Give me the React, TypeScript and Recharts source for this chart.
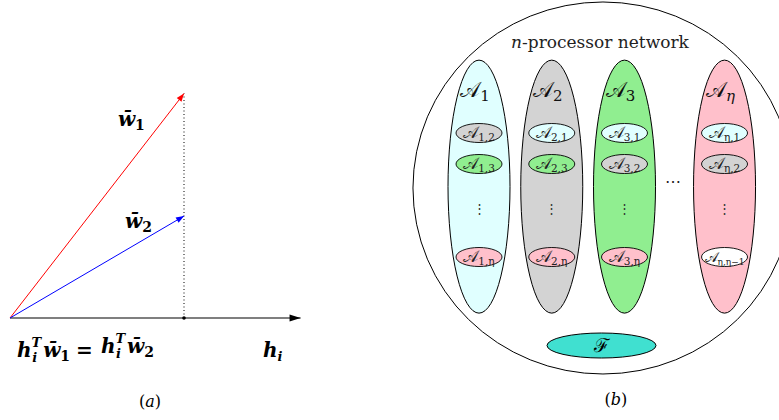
import React from "react";
import { ComposedChart, Line, Scatter, XAxis, YAxis, ReferenceDot } from "recharts";

const SERIF = "DejaVu Serif";

// ---- (a) two weight vectors with the same projection on h_i ----
const w1Vector = [{ x: 0, y: 0 }, { x: 1, y: 1.29 }];
const w2Vector = [{ x: 0, y: 0 }, { x: 1, y: 0.586 }];
const hAxis = [{ x: 0, y: 0 }, { x: 1.67, y: 0 }];
const projection = [{ x: 1, y: 0 }, { x: 1, y: 1.29 }];
const labelsA = [
  { id: "w1", x: 0.62, y: 1.103 },
  { id: "w2", x: 0.661, y: 0.517 },
  { id: "eq", x: 0.04, y: -0.224 },
  { id: "h", x: 1.454, y: -0.224 },
  { id: "cap", x: 0.805, y: -0.511 },
];

// ---- (b) n-processor network, x in group slots, y in cell rows ----
const groups = ["1", "2", "3", "η"];
const groupX = [1, 2, 3, 4.375];
const groupMidY = 2.73;
const groupLabelY = -0.16;
const cellRows = [1, 2, 5];
const cellSubs = [
  ["1,2", "1,3", "1,η"],
  ["2,1", "2,3", "2,η"],
  ["3,1", "3,2", "3,η"],
  ["η,1", "η,2", "η,η−1"],
];
// which group each cell copies (-1: the η−1 group, not drawn)
const cellRef = [
  [1, 2, 3],
  [0, 2, 3],
  [0, 1, 3],
  [0, 1, -1],
];
const vdotsY = 3.42;
const gap = { x: 3.667, y: 2.61 };
const fusion = { x: 2.684, y: 7.855 };
const network = { x: 2.704, y: 2.774 };
const titleB = { x: 2.663, y: -1.74 };
const captionB = { x: 2.883, y: 9.77 };

const groupColors = ["#e0ffff", "#d3d3d3", "#90ee90", "#ffc0cb"];

const groupData = groups.map((g, i) => ({ x: groupX[i], y: groupMidY, i }));
const groupLabelData = groups.map((g, i) => ({ x: groupX[i], y: groupLabelY, g }));
const cellData = groups.flatMap((g, i) =>
  cellRows.map((r, j) => ({ x: groupX[i], y: r, sub: cellSubs[i][j], ref: cellRef[i][j] }))
);
const vdotsData = groups.map((g, i) => ({ x: groupX[i], y: vdotsY }));

const PX_A = 174;
const PX_BX = 72.75;
const PX_BY = 31;

const serif = (size: number, extra: React.CSSProperties = {}): React.CSSProperties => ({
  fontFamily: SERIF,
  fontSize: size,
  ...extra,
});

function arrowHead(data: { x: number; y: number }[], color: string, len: number, half: number) {
  return (props: any) => {
    const { cx, cy, index } = props;
    if (index !== data.length - 1) return <g key={`n${index}`} />;
    const a = data[data.length - 2];
    const b = data[data.length - 1];
    const ang = Math.atan2(-(b.y - a.y), b.x - a.x);
    const ux = Math.cos(ang);
    const uy = Math.sin(ang);
    const bx = cx - ux * len;
    const by = cy - uy * len;
    const pts = `${cx},${cy} ${bx - uy * half},${by + ux * half} ${bx + uy * half},${by - ux * half}`;
    return <polygon key={`a${index}`} points={pts} fill={color} />;
  };
}

const bi = { fontWeight: "bold" as const, fontStyle: "italic" as const };

const renderLabelA = (p: any) => {
  const { cx, cy, payload } = p;
  if (payload.id === "w1" || payload.id === "w2") {
    return (
      <text x={cx} y={cy} fill="#000" style={serif(20, bi)}>
        {"w\u0304"}
        <tspan style={{ fontStyle: "normal", fontSize: 14 }} dy={4}>{payload.id === "w1" ? "1" : "2"}</tspan>
      </text>
    );
  }
  if (payload.id === "eq") {
    const part = (n: string, first: boolean) => [
      <tspan key={`h${n}`} dx={first ? 0 : 8} dy={first ? 0 : -4}>h</tspan>,
      <tspan key={`T${n}`} style={{ fontSize: 13 }} dy={-10}>T</tspan>,
      <tspan key={`i${n}`} style={{ fontSize: 13 }} dx={-9} dy={15}>i</tspan>,
      <tspan key={`w${n}`} dx={6} dy={-5}>{"w\u0304"}</tspan>,
      <tspan key={`n${n}`} style={{ fontStyle: "normal", fontSize: 14 }} dy={4}>{n}</tspan>,
    ];
    return (
      <text x={cx} y={cy} fill="#000" style={serif(20, bi)}>
        {part("1", true)}
        <tspan style={{ fontStyle: "normal" }} dx={6} dy={-4}>=</tspan>
        {part("2", false)}
      </text>
    );
  }
  if (payload.id === "h") {
    return (
      <text x={cx} y={cy} fill="#000" style={serif(20, bi)}>
        h<tspan style={{ fontSize: 13 }} dy={4}>i</tspan>
      </text>
    );
  }
  return (
    <text x={cx} y={cy} fill="#000" textAnchor="middle" style={serif(16)}>
      (<tspan style={{ fontStyle: "italic" }}>a</tspan>)
    </text>
  );
};

const renderNetwork = (p: any) => (
  <ellipse cx={p.cx} cy={p.cy} rx={190} ry={186} fill="#fff" stroke="#000" strokeWidth={1} />
);

const renderGroup = (p: any) => (
  <ellipse cx={p.cx} cy={p.cy} rx={31} ry={126.5} fill={groupColors[p.payload.i]} stroke="#000" strokeWidth={1} />
);

const renderGroupLabel = (p: any) => (
  <text x={p.cx - 4} y={p.cy} textAnchor="middle" fill="#111" style={serif(21)}>
    {"𝒜"}
    <tspan style={{ fontSize: 15, fontStyle: p.payload.g === "η" ? "italic" : "normal" }} dy={4}>{p.payload.g}</tspan>
  </text>
);

const renderCell = (p: any) => {
  const { cx, cy, payload } = p;
  const fill = payload.ref >= 0 ? groupColors[payload.ref] : "#fff";
  const long = payload.sub.length > 3;
  return (
    <g>
      <ellipse cx={cx} cy={cy} rx={23} ry={9.5} fill={fill} stroke="#000" strokeWidth={0.9} />
      <text x={cx} y={cy + 5} textAnchor="middle" fill="#222" style={serif(long ? 14 : 16)}>
        {"𝒜"}
        <tspan style={{ fontSize: long ? 9 : 10.5 }} dy={3}>{payload.sub}</tspan>
      </text>
    </g>
  );
};

const renderVdots = (p: any) => (
  <text x={p.cx} y={p.cy + 5} textAnchor="middle" fill="#333" style={serif(13)}>
    ⋮
  </text>
);

const renderGap = (p: any) => (
  <text x={p.cx} y={p.cy + 4} textAnchor="middle" fill="#222" style={serif(16)}>
    ⋯
  </text>
);

const renderFusion = (p: any) => (
  <g>
    <ellipse cx={p.cx} cy={p.cy} rx={54.5} ry={12.5} fill="#40e0d0" stroke="#000" strokeWidth={1} />
    <text x={p.cx} y={p.cy + 6} textAnchor="middle" fill="#000" style={serif(19)}>
      ℱ
    </text>
  </g>
);

const renderTitle = (p: any) => (
  <text x={p.cx} y={p.cy} textAnchor="middle" fill="#222" style={serif(17)}>
    <tspan style={{ fontStyle: "italic" }}>n</tspan>-processor network
  </text>
);

const renderCaptionB = (p: any) => (
  <text x={p.cx} y={p.cy} textAnchor="middle" fill="#000" style={serif(16)}>
    (<tspan style={{ fontStyle: "italic" }}>b</tspan>)
  </text>
);

export default function App() {
  const lineCommon = { type: "linear" as const, dataKey: "y", activeDot: false, isAnimationActive: false };
  return (
    <div style={{ position: "absolute", left: 0, top: 0, width: 779, height: 420, background: "#fff" }}>
      <div style={{ position: "absolute", left: 0, top: 0 }}>
        <ComposedChart width={330} height={420} margin={{ top: 0, right: 0, bottom: 0, left: 0 }}>
          <XAxis type="number" dataKey="x" domain={[-10 / PX_A, 320 / PX_A]} hide allowDataOverflow />
          <YAxis type="number" dataKey="y" domain={[-102 / PX_A, 318 / PX_A]} hide allowDataOverflow />
          <Line {...lineCommon} data={projection} stroke="#000" strokeWidth={1} strokeDasharray="1 2.5" dot={false} />
          <Line {...lineCommon} data={hAxis} stroke="#555" strokeWidth={1.6} dot={arrowHead(hAxis, "#000", 11, 3.5)} />
          <Line {...lineCommon} data={w1Vector} stroke="#ff0000" strokeWidth={1} dot={arrowHead(w1Vector, "#ff0000", 8, 3)} />
          <Line {...lineCommon} data={w2Vector} stroke="#0000ff" strokeWidth={1} dot={arrowHead(w2Vector, "#0000ff", 8, 3)} />
          <ReferenceDot x={1} y={0} r={1.8} fill="#000" stroke="none" />
          <Scatter data={labelsA} dataKey="y" shape={renderLabelA} isAnimationActive={false} />
        </ComposedChart>
      </div>
      <div style={{ position: "absolute", left: 400, top: 0 }}>
        <ComposedChart width={379} height={420} margin={{ top: 0, right: 0, bottom: 0, left: 0 }}>
          <XAxis type="number" dataKey="x" domain={[1 - 79 / PX_BX, 1 + 300 / PX_BX]} hide allowDataOverflow />
          <YAxis type="number" dataKey="y" domain={[-102 / PX_BY, 318 / PX_BY]} reversed hide allowDataOverflow />
          <Scatter data={[network]} dataKey="y" shape={renderNetwork} isAnimationActive={false} />
          <Scatter data={groupData} dataKey="y" shape={renderGroup} isAnimationActive={false} />
          <Scatter data={groupLabelData} dataKey="y" shape={renderGroupLabel} isAnimationActive={false} />
          <Scatter data={cellData} dataKey="y" shape={renderCell} isAnimationActive={false} />
          <Scatter data={vdotsData} dataKey="y" shape={renderVdots} isAnimationActive={false} />
          <Scatter data={[gap]} dataKey="y" shape={renderGap} isAnimationActive={false} />
          <Scatter data={[fusion]} dataKey="y" shape={renderFusion} isAnimationActive={false} />
          <Scatter data={[titleB]} dataKey="y" shape={renderTitle} isAnimationActive={false} />
          <Scatter data={[captionB]} dataKey="y" shape={renderCaptionB} isAnimationActive={false} />
        </ComposedChart>
      </div>
    </div>
  );
}
